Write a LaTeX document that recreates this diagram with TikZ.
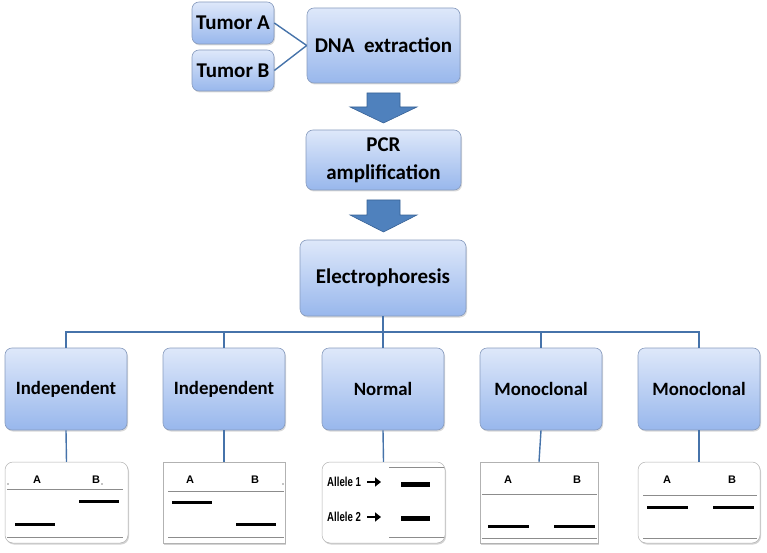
\documentclass[tikz,border=0pt]{standalone}
\usepackage{fontspec}
\setmainfont{Carlito}
\newfontfamily\arialf{Liberation Sans}
\usetikzlibrary{shadows,arrows.meta}
\definecolor{boxtop}{RGB}{222,232,250}
\definecolor{boxbot}{RGB}{152,183,236}
\definecolor{boxedge}{RGB}{135,155,190}
\definecolor{linkc}{RGB}{70,115,170}
\definecolor{arrfill}{RGB}{79,129,189}
\definecolor{arredge}{RGB}{56,98,150}
\definecolor{gelline}{RGB}{140,140,140}
\tikzset{
  stepbox/.style={draw=boxedge, line width=0.6pt, rounded corners=7pt,
    top color=boxtop, bottom color=boxbot, align=center,
    font=\fontsize{21}{28}\selectfont\bfseries, text=black,
    drop shadow={shadow xshift=1pt,shadow yshift=-1.5pt,opacity=0.3}},
  lowbox/.style={stepbox, font=\fontsize{18.8}{22}\selectfont\bfseries},
  link/.style={draw=linkc, line width=1.4pt},
  blockarrow/.style={fill=arrfill, draw=arredge, line width=0.6pt},
  gelbox/.style={draw=gray!60, line width=0.5pt, fill=white,
    drop shadow={shadow xshift=1pt,shadow yshift=-1.5pt,opacity=0.35}},
  gelround/.style={gelbox, rounded corners=8pt},
  lane/.style={font=\arialf\fontsize{11}{12}\selectfont\bfseries},
  band/.style={line width=3pt, black},
  gline/.style={draw=gelline, line width=0.9pt},
  allele/.style={line width=2.6pt, -{Triangle[length=6pt,width=9pt]}},
}
\begin{document}
\begin{tikzpicture}[x=1pt,y=-1pt]
\useasboundingbox (0,0) rectangle (767,553);
% top nodes
\node[stepbox, minimum width=82pt, minimum height=42pt] (tumA) at (233,23) {Tumor A};
\node[stepbox, minimum width=82pt, minimum height=41pt] (tumB) at (233,70.5) {Tumor B};
\node[stepbox, minimum width=153pt, minimum height=75pt] (dna) at (383.5,45.5) {DNA\ \ extraction};
\node[stepbox, minimum width=155pt, minimum height=60pt, inner sep=0pt] (pcr) at (383.5,160) {PCR\\amplification};
\node[stepbox, minimum width=166pt, minimum height=76pt] (elec) at (383,278) {Electrophoresis};
\draw[link] (tumA.east) -- (dna.west);
\draw[link] (tumB.east) -- (dna.west);
% block arrows
\draw[blockarrow] (367,93) -- (400,93) -- (400,107) -- (417,107) -- (383.5,123) -- (350,107) -- (367,107) -- cycle;
\draw[blockarrow] (367,200) -- (400,200) -- (400,215) -- (417,215) -- (383.5,232) -- (350,215) -- (367,215) -- cycle;
% bottom boxes
\foreach \n/\x/\t in {b1/66/Independent, b2/224/Independent, b3/383/Normal, b4/541/Monoclonal, b5/699/Monoclonal}{
  \node[lowbox, minimum width=122pt, minimum height=82pt] (\n) at (\x,389) {\t};
}
\coordinate (bus) at (383,332);
\draw[link] (elec.south) -- (bus);
\draw[link] (b1.north) |- (bus) -| (b5.north);
\draw[link] (b2.north) -- (b2.north |- bus);
\draw[link] (b3.north) -- (bus);
\draw[link] (b4.north) -- (b4.north |- bus);
% gels
\node[gelround, minimum width=123pt, minimum height=81pt] (g1) at (66.5,502.5) {};
\node[gelbox, minimum width=122pt, minimum height=81pt] (g2) at (224,502.5) {};
\node[gelround, minimum width=123pt, minimum height=81pt] (g3) at (383.5,502.5) {};
\node[gelbox, minimum width=118pt, minimum height=81pt] (g4) at (539,502.5) {};
\node[gelround, minimum width=122pt, minimum height=81pt] (g5) at (699,502.5) {};
\foreach \i in {1,...,5}{\draw[link] (b\i.south) -- (g\i.north);}
% gel 1
\node[lane] (g1a) at (37,480) {A};
\node[lane] (g1b) at (96,480) {B};
\fill (102,484) circle (0.6pt);
\fill (8,484) circle (0.6pt);
\draw[gline] (7,489) -- (123,489);
\draw[band] (79,501) -- (119,501);
\draw[band] (15,524) -- (55,524);
\draw[gline] (7,537) -- (123,537);
% gel 2
\node[lane] (g2a) at (190,480) {A};
\node[lane] (g2b) at (255,480) {B};
\fill (283,484) circle (0.6pt);
\draw[gline] (168,491) -- (284,491);
\draw[band] (172,502) -- (212,502);
\draw[band] (236,524) -- (276,524);
\draw[gline] (168,537) -- (284,537);
% gel 3
\node[anchor=west, inner sep=0pt] (al1) at (327,482) {\scalebox{0.74}[1]{\arialf\fontsize{13}{14}\selectfont\bfseries Allele 1}};
\node[anchor=west, inner sep=0pt] (al2) at (327,517) {\scalebox{0.74}[1]{\arialf\fontsize{13}{14}\selectfont\bfseries Allele 2}};
\draw[allele] (367,482) -- (381,482);
\draw[allele] (367,517) -- (381,517);
\draw[gline] (389,467) -- (444,467);
\draw[line width=5pt] (401,484) -- (430,484);
\draw[line width=5pt] (401,518) -- (430,518);
\draw[gline] (389,537) -- (444,537);
% gel 4
\node[lane] (g4a) at (508,480) {A};
\node[lane] (g4b) at (577,480) {B};
\draw[gline] (482,494) -- (597,494);
\draw[band] (488,526) -- (529,526);
\draw[band] (554,526) -- (595,526);
\draw[gline] (482,538) -- (597,538);
% gel 5
\node[lane] (g5a) at (667,480) {A};
\node[lane] (g5b) at (732,480) {B};
\draw[gline] (643,495) -- (757,495);
\draw[band] (647,507) -- (688,507);
\draw[band] (713,507) -- (754,507);
\draw[gline] (643,538) -- (757,538);
\end{tikzpicture}
\end{document}
